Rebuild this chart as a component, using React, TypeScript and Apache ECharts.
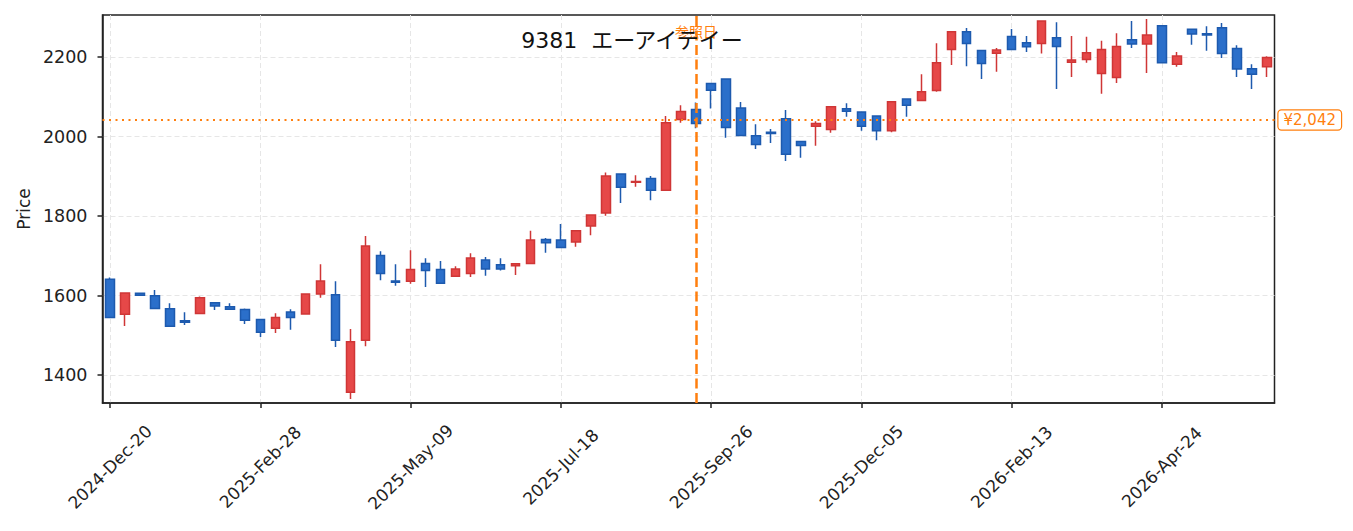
import React, { useEffect, useRef } from "react";
import * as echarts from "echarts";

const FONT = '"DejaVu Sans", "Noto Sans CJK JP", sans-serif';

const weeks = [
  "2024-Dec-20", "2024-Dec-27", "2025-Jan-03", "2025-Jan-10", "2025-Jan-17", "2025-Jan-24", "2025-Jan-31", "2025-Feb-07", "2025-Feb-14", "2025-Feb-21",
  "2025-Feb-28", "2025-Mar-07", "2025-Mar-14", "2025-Mar-21", "2025-Mar-28", "2025-Apr-04", "2025-Apr-11", "2025-Apr-18", "2025-Apr-25", "2025-May-02",
  "2025-May-09", "2025-May-16", "2025-May-23", "2025-May-30", "2025-Jun-06", "2025-Jun-13", "2025-Jun-20", "2025-Jun-27", "2025-Jul-04", "2025-Jul-11",
  "2025-Jul-18", "2025-Jul-25", "2025-Aug-01", "2025-Aug-08", "2025-Aug-15", "2025-Aug-22", "2025-Aug-29", "2025-Sep-05", "2025-Sep-12", "2025-Sep-19",
  "2025-Sep-26", "2025-Oct-03", "2025-Oct-10", "2025-Oct-17", "2025-Oct-24", "2025-Oct-31", "2025-Nov-07", "2025-Nov-14", "2025-Nov-21", "2025-Nov-28",
  "2025-Dec-05", "2025-Dec-12", "2025-Dec-19", "2025-Dec-26", "2026-Jan-02", "2026-Jan-09", "2026-Jan-16", "2026-Jan-23", "2026-Jan-30", "2026-Feb-06",
  "2026-Feb-13", "2026-Feb-20", "2026-Feb-27", "2026-Mar-06", "2026-Mar-13", "2026-Mar-20", "2026-Mar-27", "2026-Apr-03", "2026-Apr-10", "2026-Apr-17",
  "2026-Apr-24", "2026-May-01", "2026-May-08", "2026-May-15", "2026-May-22", "2026-May-29", "2026-Jun-05", "2026-Jun-12",
];

const opens = [
  1641, 1553, 1606, 1600, 1567, 1537, 1555, 1582, 1572, 1565,
  1540, 1518, 1559, 1554, 1604, 1602, 1357, 1488, 1701, 1637,
  1636, 1681, 1666, 1649, 1656, 1690, 1678, 1675, 1681, 1741,
  1740, 1735, 1775, 1808, 1906, 1885, 1895, 1865, 2043, 2068,
  2134, 2145, 2072, 2002, 2011, 2045, 1988, 2026, 2018, 2070,
  2062, 2052, 2015, 2095, 2091, 2116, 2219, 2264, 2217, 2210,
  2252, 2236, 2234, 2249, 2187, 2194, 2159, 2149, 2244, 2233,
  2279, 2182, 2270, 2259, 2274, 2222, 2171, 2176,
];
const closes = [
  1545, 1607, 1601, 1568, 1523, 1533, 1595, 1574, 1566, 1538,
  1508, 1545, 1545, 1604, 1637, 1488, 1484, 1725, 1656, 1634,
  1666, 1663, 1631, 1667, 1695, 1667, 1667, 1680, 1740, 1733,
  1721, 1763, 1803, 1901, 1873, 1887, 1865, 2035, 2063, 2033,
  2117, 2023, 2003, 1980, 2008, 1956, 1978, 2033, 2075, 2064,
  2026, 2015, 2088, 2079, 2113, 2186, 2264, 2234, 2184, 2218,
  2219, 2226, 2291, 2227, 2193, 2211, 2219, 2227, 2233, 2256,
  2186, 2203, 2258, 2256, 2209, 2170, 2157, 2199,
];
const lows = [
  1545, 1524, 1599, 1568, 1523, 1526, 1555, 1564, 1565, 1529,
  1496, 1506, 1514, 1554, 1595, 1471, 1340, 1473, 1639, 1625,
  1630, 1622, 1631, 1649, 1647, 1650, 1663, 1652, 1681, 1708,
  1721, 1723, 1752, 1801, 1833, 1874, 1840, 1865, 2035, 2021,
  2071, 1997, 2003, 1969, 1984, 1939, 1947, 1977, 2010, 2050,
  2015, 1991, 2011, 2050, 2091, 2113, 2180, 2177, 2145, 2163,
  2219, 2213, 2209, 2120, 2150, 2186, 2108, 2135, 2223, 2160,
  2184, 2176, 2231, 2216, 2198, 2150, 2120, 2150,
];
const highs = [
  1646, 1607, 1607, 1614, 1581, 1558, 1598, 1582, 1581, 1568,
  1540, 1556, 1566, 1605, 1679, 1636, 1516, 1750, 1712, 1679,
  1714, 1694, 1687, 1674, 1707, 1697, 1694, 1681, 1763, 1745,
  1780, 1763, 1803, 1910, 1907, 1903, 1901, 2052, 2079, 2086,
  2134, 2145, 2087, 2031, 2019, 2067, 1988, 2039, 2075, 2084,
  2062, 2052, 2088, 2095, 2157, 2235, 2264, 2273, 2217, 2223,
  2271, 2253, 2291, 2288, 2253, 2251, 2241, 2260, 2291, 2296,
  2279, 2213, 2270, 2278, 2286, 2230, 2182, 2202,
];

const referenceWeek = "2025-Sep-19";
const referencePrice = 2042;
const referenceLabelLevel = 2262;
const titleText = "9381  エーアイテイー";

export default function App() {
  const ref = useRef<HTMLDivElement>(null);

  useEffect(() => {
    if (!ref.current) return;
    const chart = echarts.init(ref.current, undefined, { renderer: "svg" });
    const candles = weeks.map((_, i) => [opens[i], closes[i], lows[i], highs[i]]);
    const dashedGrid = { color: "#e6e6e6", type: [5, 3] as any, width: 1 };

    chart.setOption({
      animation: false,
      backgroundColor: "#ffffff",
      title: {
        text: titleText,
        left: 627,
        top: 24,
        textAlign: "center",
        textStyle: { fontFamily: FONT, fontSize: 22, fontWeight: "normal", color: "#111" },
      },
      grid: {
        left: 102.5,
        right: 78.5,
        top: 15,
        bottom: 128,
        show: true,
        borderColor: "#222",
        borderWidth: 1.5,
        containLabel: false,
      },
      xAxis: {
        type: "category",
        data: weeks,
        boundaryGap: true,
        axisLine: { show: true, lineStyle: { color: "#222", width: 1.5 } },
        axisTick: { show: true, interval: 9, alignWithLabel: true, length: 5, lineStyle: { color: "#222", width: 1.5 } },
        axisLabel: {
          interval: 9,
          rotate: 45,
          align: "center",
          verticalAlign: "middle",
          margin: 64,
          fontSize: 17,
          fontFamily: FONT,
          color: "#222",
          hideOverlap: false,
        },
        splitLine: { show: true, interval: 9, alignWithLabel: true, lineStyle: dashedGrid },
      },
      yAxis: {
        type: "value",
        min: 1330,
        max: 2306,
        splitNumber: 5,
        name: "Price",
        nameLocation: "middle",
        nameGap: 67,
        nameTextStyle: { fontFamily: FONT, fontSize: 17, color: "#222" },
        axisLine: { show: true, lineStyle: { color: "#222", width: 1.5 } },
        axisTick: { show: true, length: 5, lineStyle: { color: "#222", width: 1.5 } },
        axisLabel: {
          margin: 15,
          fontSize: 17.5,
          fontFamily: FONT,
          color: "#222",
          showMinLabel: false,
          showMaxLabel: false,
          formatter: (v: number) => String(v),
        },
        splitLine: { show: true, showMinLine: false, showMaxLine: false, lineStyle: dashedGrid },
      },
      series: [
        {
          type: "candlestick",
          data: candles,
          barWidth: 9,
          itemStyle: {
            color: "#e64848",
            color0: "#2b6fca",
            borderColor: "#cf3636",
            borderColor0: "#1d5aae",
            borderWidth: 1.5,
          },
          markLine: {
            silent: true,
            symbol: ["none", "none"],
            data: [
              {
                xAxis: referenceWeek,
                lineStyle: { color: "#ff7f0e", type: [10, 4.5], width: 2.5 },
                label: { show: false },
              },
              {
                yAxis: referencePrice,
                lineStyle: { color: "#ff7f0e", type: [2, 4.5], width: 2 },
                label: {
                  show: true,
                  position: "end",
                  distance: 4,
                  formatter: "¥2,042",
                  color: "#ff7f0e",
                  fontFamily: FONT,
                  fontSize: 15,
                  backgroundColor: "#ffffff",
                  borderColor: "#ff7f0e",
                  borderWidth: 1.2,
                  borderRadius: 3,
                  padding: [2, 5],
                },
              },
            ],
          },
          markPoint: {
            silent: true,
            data: [
              {
                coord: [referenceWeek, referenceLabelLevel],
                symbol: "circle",
                symbolSize: 1,
                itemStyle: { color: "rgba(0,0,0,0)" },
                label: {
                  show: true,
                  position: "inside",
                  formatter: "参照日",
                  color: "#ff7f0e",
                  fontFamily: FONT,
                  fontSize: 14,
                },
              },
            ],
          },
        },
      ],
    });

    return () => chart.dispose();
  }, []);

  return (
    <div
      ref={ref}
      style={{ position: "fixed", left: 0, top: 0, width: 1353, height: 531, background: "#fff" }}
    />
  );
}
